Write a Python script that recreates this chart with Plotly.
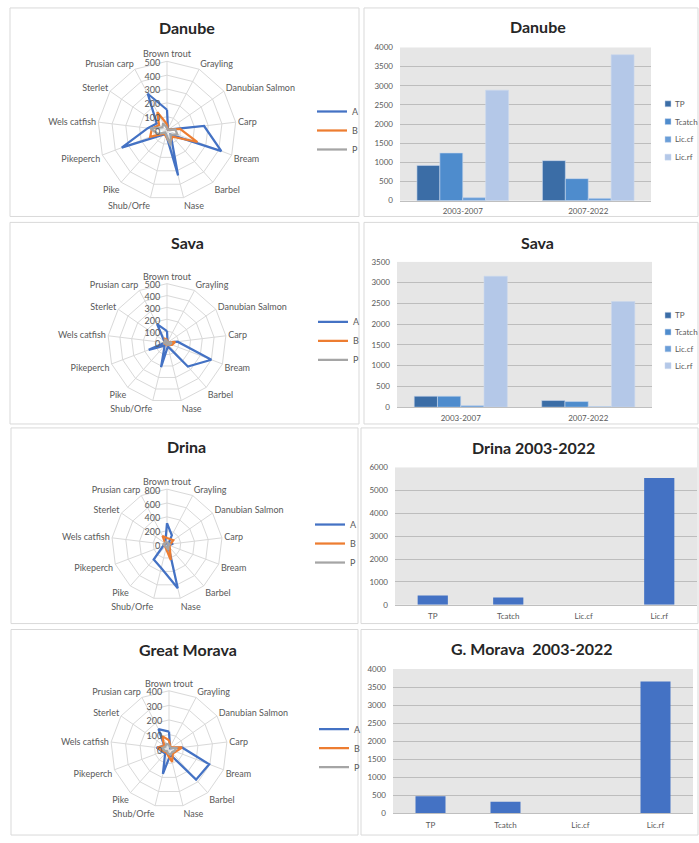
import plotly.graph_objects as go

W, H = 699, 843
FONT = "Lato"
TXT = "#595959"

# ---- radar data: catch per species (A, B, P) ----
species = ["Brown trout", "Grayling", "Danubian Salmon", "Carp", "Bream", "Barbel",
           "Nase", "Shub/Orfe", "Pike", "Pikeperch", "Wels catfish", "Sterlet", "Prusian carp"]

danube_A = [150, 15, 10, 270, 420, 40, 335, 30, 40, 350, 140, 90, 300]
danube_B = [45, 10, 10, 95, 235, 60, 90, 40, 30, 130, 110, 70, 150]
danube_P = [20, 10, 10, 60, 80, 40, 110, 30, 20, 70, 120, 40, 60]

sava_A = [100, 10, 10, 90, 400, 265, 30, 210, 30, 165, 20, 30, 180]
sava_B = [30, 10, 10, 70, 45, 20, 20, 20, 15, 20, 25, 20, 40]
sava_P = [20, 10, 10, 40, 30, 20, 15, 15, 10, 15, 30, 20, 30]

drina_A = [310, 150, 30, 90, 30, 30, 650, 350, 290, 60, 30, 20, 50]
drina_B = [95, 90, 110, 50, 40, 60, 230, 60, 40, 40, 40, 30, 140]
drina_P = [40, 30, 30, 40, 30, 30, 80, 40, 30, 40, 60, 30, 40]

morava_A = [120, 15, 10, 90, 295, 280, 40, 175, 40, 50, 85, 40, 155]
morava_B = [60, 20, 20, 90, 50, 40, 90, 40, 30, 40, 80, 40, 100]
morava_P = [30, 15, 15, 50, 40, 30, 40, 30, 20, 30, 50, 30, 40]

series_names = ["A", "B", "P"]
series_colors = ["#4472C4", "#ED7D31", "#A5A5A5"]

# ---- bar data ----
periods = ["2003-2007", "2007-2022"]
indicators = ["TP", "Tcatch", "Lic.cf", "Lic.rf"]
indicator_colors = ["#3B6DA6", "#4E8CCD", "#6A9ED8", "#B4C8E8"]

danube_TP = [920, 1045]
danube_Tcatch = [1245, 575]
danube_Liccf = [80, 60]
danube_Licrf = [2885, 3810]

sava_TP = [265, 160]
sava_Tcatch = [265, 135]
sava_Liccf = [40, 15]
sava_Licrf = [3155, 2545]

drina_totals = [405, 320, 0, 5535]
morava_totals = [475, 320, 0, 3655]


def xd(a, b):
    return [a / W, b / W]


def yd(top, bottom):
    return [1 - bottom / H, 1 - top / H]


def title(text, x, y):
    return dict(text="<b>" + text + "</b>", x=x / W, y=1 - y / H, xref="paper", yref="paper",
                xanchor="center", yanchor="middle", showarrow=False,
                font=dict(family=FONT, size=16, color="#262626"))


fig = go.Figure()
layout = {}
annotations = []
shapes = []

# ---- radar panels ----
radars = [
    dict(sub="polar", leg="legend", title="Danube", cx=167, cy=127, r=70, rmax=500, dt=100,
         data=[danube_A, danube_B, danube_P], tpos=(187, 23), lpos=(312, 127)),
    dict(sub="polar2", leg="legend2", title="Sava", cx=167, cy=342, r=60, rmax=500, dt=100,
         data=[sava_A, sava_B, sava_P], tpos=(187, 240), lpos=(313, 340)),
    dict(sub="polar3", leg="legend3", title="Drina", cx=167, cy=546, r=56, rmax=800, dt=200,
         data=[drina_A, drina_B, drina_P], tpos=(186, 447), lpos=(310, 545)),
    dict(sub="polar4", leg="legend4", title="Great Morava", cx=169, cy=753, r=59, rmax=400, dt=100,
         data=[morava_A, morava_B, morava_P], tpos=(188, 652), lpos=(314, 752)),
]

for rd in radars:
    for name, color, vals in zip(series_names, series_colors, rd["data"]):
        fig.add_trace(go.Scatterpolar(
            r=vals + vals[:1], theta=species + species[:1], mode="lines", name=name,
            line=dict(color=color, width=2.25), subplot=rd["sub"], legend=rd["leg"],
        ))
    cx, cy, r = rd["cx"], rd["cy"], rd["r"]
    layout[rd["sub"]] = dict(
        domain=dict(x=xd(cx - r, cx + r), y=yd(cy - r, cy + r)),
        bgcolor="white",
        gridshape="linear",
        angularaxis=dict(type="category", categoryarray=species, direction="clockwise",
                         rotation=90, showline=True, linecolor="#D9D9D9", linewidth=1,
                         gridcolor="#D9D9D9", ticks="",
                         tickfont=dict(family=FONT, size=9, color=TXT)),
        radialaxis=dict(range=[0, rd["rmax"]], dtick=rd["dt"], angle=90,
                        side="counterclockwise", showline=False, gridcolor="#D9D9D9",
                        ticks="", tickfont=dict(family=FONT, size=9, color=TXT)),
    )
    layout[rd["leg"]] = dict(x=rd["lpos"][0] / W, y=1 - rd["lpos"][1] / H,
                             xanchor="left", yanchor="middle", bgcolor="rgba(0,0,0,0)",
                             font=dict(family=FONT, size=9, color=TXT), itemwidth=30)
    annotations.append(title(rd["title"], *rd["tpos"]))

# ---- grouped bar panels (Danube, Sava) with a compact key on the right ----
grouped = [
    dict(ax="", title="Danube", box=(400, 43, 651, 198), rmax=4000,
         vals=[danube_TP, danube_Tcatch, danube_Liccf, danube_Licrf],
         tpos=(538, 22), key_x=668, key_y=[100, 118, 136, 154]),
    dict(ax="2", title="Sava", box=(397, 260, 652, 407), rmax=3500,
         vals=[sava_TP, sava_Tcatch, sava_Liccf, sava_Licrf],
         tpos=(537, 240), key_x=668, key_y=[314, 331, 348, 365]),
]

for gb in grouped:
    for name, color, vals in zip(indicators, indicator_colors, gb["vals"]):
        fig.add_trace(go.Bar(
            x=periods, y=vals, name=name,
            marker=dict(color=color, line=dict(color="#C9D7EC", width=0.6)),
            xaxis="x" + gb["ax"], yaxis="y" + gb["ax"], showlegend=False,
        ))
    x0, y0, x1, y1 = gb["box"]
    layout["xaxis" + gb["ax"]] = dict(domain=xd(x0, x1), anchor="y" + gb["ax"], showline=True,
                                      linecolor="#BFBFBF", ticks="", showgrid=False,
                                      ticklabelstandoff=3,
                                      tickfont=dict(family=FONT, size=8, color=TXT))
    layout["yaxis" + gb["ax"]] = dict(domain=yd(y0, y1), anchor="x" + gb["ax"],
                                      range=[0, gb["rmax"]], dtick=500, gridcolor="#BDBDBD",
                                      zeroline=False, ticks="", ticklabelstandoff=6,
                                      tickfont=dict(family=FONT, size=8, color=TXT))
    annotations.append(title(gb["title"], *gb["tpos"]))
    kx = gb["key_x"]
    for name, color, ky in zip(indicators, indicator_colors, gb["key_y"]):
        shapes.append(dict(type="rect", xref="paper", yref="paper",
                           x0=(kx - 3) / W, x1=(kx + 3) / W,
                           y0=1 - (ky + 3) / H, y1=1 - (ky - 3) / H,
                           fillcolor=color, line=dict(color="#C9D7EC", width=0.5)))
        annotations.append(dict(text=name, x=(kx + 5) / W, y=1 - ky / H, xref="paper",
                                yref="paper", xanchor="left", yanchor="middle",
                                showarrow=False, font=dict(family=FONT, size=8, color=TXT)))

# ---- single series bar panels (Drina, Great Morava) ----
singles = [
    dict(ax="3", title="Drina 2003-2022", box=(395, 468, 697, 607), rmax=6000, dt=1000,
         vals=drina_totals, tpos=(533, 448)),
    dict(ax="4", title="G. Morava  2003-2022", box=(393, 672, 693, 818), rmax=4000, dt=500,
         vals=morava_totals, tpos=(532, 651)),
]

for sb in singles:
    fig.add_trace(go.Bar(
        x=indicators, y=sb["vals"], width=0.4, marker=dict(color="#4472C4", line=dict(width=0)),
        xaxis="x" + sb["ax"], yaxis="y" + sb["ax"], showlegend=False,
    ))
    x0, y0, x1, y1 = sb["box"]
    layout["xaxis" + sb["ax"]] = dict(domain=xd(x0, x1), anchor="y" + sb["ax"], showline=True,
                                      linecolor="#BFBFBF", ticks="", showgrid=False,
                                      ticklabelstandoff=4,
                                      tickfont=dict(family=FONT, size=8, color=TXT))
    layout["yaxis" + sb["ax"]] = dict(domain=yd(y0, y1), anchor="x" + sb["ax"],
                                      range=[0, sb["rmax"]], dtick=sb["dt"], gridcolor="#BDBDBD",
                                      zeroline=False, ticks="", ticklabelstandoff=6,
                                      tickfont=dict(family=FONT, size=8, color=TXT))
    annotations.append(title(sb["title"], *sb["tpos"]))

# ---- panel frames ----
frames = [
    (10, 3, 359, 214), (364, 3, 698, 214),
    (10, 220, 359, 424), (364, 220, 698, 424),
    (11, 428, 358, 626), (361, 428, 698, 626),
    (11, 632, 358, 840), (361, 632, 698, 840),
]
for x0, y0, x1, y1 in frames:
    shapes.append(dict(type="rect", xref="paper", yref="paper",
                       x0=x0 / W, x1=x1 / W, y0=1 - y1 / H, y1=1 - y0 / H,
                       line=dict(color="#D9D9D9", width=1), fillcolor="rgba(0,0,0,0)",
                       layer="below"))

fig.update_layout(
    width=W, height=H,
    margin=dict(l=0, r=0, t=0, b=0),
    paper_bgcolor="white",
    plot_bgcolor="#E6E6E6",
    barmode="group", bargap=0.27, bargroupgap=0,
    font=dict(family=FONT, color=TXT),
    annotations=annotations,
    shapes=shapes,
    **layout,
)

fig.write_html("out.html")
